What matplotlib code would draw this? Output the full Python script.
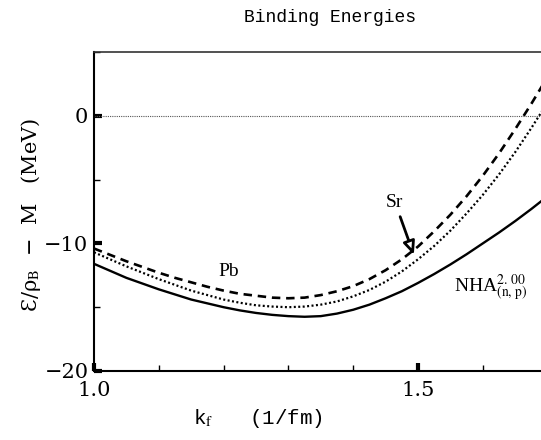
import matplotlib
matplotlib.use("Agg")
import matplotlib.pyplot as plt
from matplotlib.ticker import MultipleLocator

# Fermi momentum grid (1/fm)
kf = [1.000, 1.025, 1.050, 1.075, 1.100, 1.125, 1.150, 1.175, 1.200, 1.225,
      1.250, 1.275, 1.300, 1.325, 1.350, 1.375, 1.400, 1.425, 1.450, 1.475,
      1.500, 1.525, 1.550, 1.575, 1.600, 1.625, 1.650, 1.675, 1.700]

# Binding energy per baryon, E/rho_B - M (MeV)
e_dashed = [-10.4, -10.9, -11.4, -11.85, -12.3, -12.7, -13.05, -13.4, -13.7,
            -13.95, -14.1, -14.25, -14.3, -14.25, -14.05, -13.75, -13.35,
            -12.8, -12.1, -11.25, -10.25, -9.05, -7.75, -6.3, -4.7, -2.95,
            -1.05, 0.95, 3.05]
e_dotted = [-10.7, -11.25, -11.8, -12.3, -12.8, -13.25, -13.7, -14.05, -14.4,
            -14.65, -14.85, -14.95, -15.0, -14.95, -14.8, -14.55, -14.15,
            -13.65, -13.0, -12.2, -11.25, -10.2, -9.0, -7.65, -6.2, -4.6,
            -2.85, -0.95, 1.05]
e_solid = [-11.6, -12.15, -12.7, -13.15, -13.6, -14.0, -14.4, -14.7, -15.0,
           -15.25, -15.45, -15.6, -15.7, -15.75, -15.7, -15.5, -15.2, -14.8,
           -14.3, -13.75, -13.1, -12.4, -11.65, -10.85, -10.0, -9.15, -8.25,
           -7.3, -6.3]

xticks = [1.0, 1.5]
xticklabels = ["1.0", "1.5"]
yticks = [-20, -10, 0]
yticklabels = ["\u221220", "\u221210", "0"]

W, H = 541, 440
fig = plt.figure(figsize=(W / 100, H / 100), dpi=100)
ax = fig.add_axes([94 / W, 1 - 371 / H, (547.6 - 94) / W, (371 - 52) / H])

ax.plot(kf, e_dashed, color="black", lw=1.9, ls=(0, (3.2, 2.2)))
ax.plot(kf, e_dotted, color="black", lw=1.6, ls=(0, (0.9, 1.1)))
ax.plot(kf, e_solid, color="black", lw=1.7, ls="-")
ax.axhline(0, color="#555555", lw=0.8, ls=(0, (1, 1)))

ax.set_xlim(1.0, 1.7)
ax.set_ylim(-20, 5)

serif = ["DejaVu Serif"]
ax.set_xticks(xticks)
ax.set_xticklabels(xticklabels, family=serif, fontsize=15)
ax.set_yticks(yticks)
ax.set_yticklabels(yticklabels, family=serif, fontsize=15)
ax.xaxis.set_minor_locator(MultipleLocator(0.1))
ax.yaxis.set_minor_locator(MultipleLocator(5))
ax.tick_params(which="major", direction="in", length=6, width=3)
ax.tick_params(which="minor", direction="in", length=4, width=1)
ax.tick_params(axis="x", which="major", pad=7)
ax.tick_params(axis="y", which="major", pad=4)
ax.tick_params(axis="y", which="both", left=True, right=False)
ax.tick_params(axis="x", which="both", top=False)

for side in ("left", "bottom"):
    ax.spines[side].set_linewidth(1.5)
ax.spines["top"].set_linewidth(1.2)
ax.spines["top"].set_color("#333333")
ax.spines["right"].set_visible(False)

# Curve labels
ax.text(1.208, -12.2, "Pb", family=["Liberation Serif"], fontsize=14,
        ha="center", va="center")
ax.text(1.464, -6.8, "Sr", family=["Liberation Serif"], fontsize=14,
        ha="center", va="center")
ax.annotate("", xy=(1.495, -11.1), xytext=(1.471, -7.7),
            arrowprops=dict(arrowstyle="-|>,head_length=0.8,head_width=0.35",
                            lw=2.0, color="black", fc="white"))
ax.text(1.612, -13.5, r"NHA$^{2.\,00}_{(\mathrm{n,\,p})}$",
        family=["Liberation Serif"], fontsize=14, ha="center", va="center",
        math_fontfamily="stix")

fig.text(330 / W, 1 - 18 / H, "Binding Energies", family=["Liberation Mono"],
         fontsize=13, ha="center", va="center")
fig.text(258 / W, 1 - 418 / H, r"k$_{\mathrm{f}}$   (1/fm)",
         family=["Liberation Mono"], fontsize=15, ha="center", va="center",
         math_fontfamily="stix")
fig.text(31 / W, 1 - 215 / H,
         "\u0190/\u03c1$_{\\mathrm{B}}$  \u2212  M   (MeV)",
         family=["DejaVu Serif"], fontsize=15, ha="center", va="center",
         rotation=90, math_fontfamily="stix")

fig.savefig("out.png", dpi=100)
